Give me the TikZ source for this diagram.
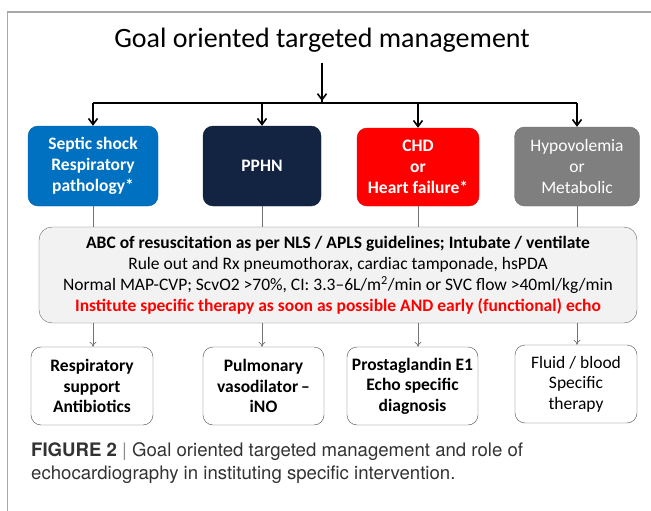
\documentclass[tikz,border=0pt]{standalone}
\usepackage{fontspec}
\setmainfont{Carlito}
\newfontfamily\captionfont{TeX Gyre Heros}
\usetikzlibrary{positioning,arrows.meta}

\definecolor{septicblue}{HTML}{0070C0}
\definecolor{pphnnavy}{HTML}{122441}
\definecolor{chdred}{HTML}{FF0000}
\definecolor{hypogray}{HTML}{7F7F7F}
\definecolor{abcfill}{HTML}{F2F2F2}
\definecolor{framegray}{HTML}{A8A8A8}
\definecolor{captiongray}{HTML}{333333}

\tikzset{
    condbox/.style={draw=#1!85!black, fill=#1, rounded corners=10pt, text=white, align=center,
        minimum height=80pt, inner sep=1pt, font=\fontsize{17.5}{21}\selectfont},
    therapybox/.style={draw=black!70, rounded corners=10pt, align=center, minimum height=78pt,
        inner sep=1pt, font=\fontsize{17.5}{20.5}\selectfont},
    busarrow/.style={line width=1.6pt, -{Straight Barb[length=6pt,width=9pt]}},
    thinline/.style={draw=black!55, line width=0.7pt},
    thinarrow/.style={thinline, -{To[length=5pt,width=7pt]}}
}

\begin{document}
\begin{tikzpicture}[x=1pt, y=-1pt]
        \useasboundingbox (0,0) rectangle (651,511);

        % Draw the outer frame
        \draw[framegray, line width=1.3pt] (7.5,511) -- (7.5,12) -- (651,12);

        % Title and the bus below it
        \node (title) at (322,40) {\fontsize{28}{32}\selectfont Goal oriented targeted management};
        \coordinate (hub) at (322,103);

        % Presenting conditions
        \node[condbox=septicblue, minimum width=130pt] (septic) at (93,166) {\bfseries Septic shock\\\bfseries Respiratory\\\bfseries pathology*};
        \node[condbox=pphnnavy, minimum width=118pt] (pphn) at (262,166) {\bfseries PPHN};
        \node[condbox=chdred, minimum width=122pt, minimum height=78pt] (chd) at (418,167) {\bfseries CHD\\\bfseries or\\\bfseries Heart failure*};
        \node[condbox=hypogray, minimum width=125pt, minimum height=79pt] (hypo) at (577,166.5) {Hypovolemia\\or\\Metabolic};

        % Draw the arrows from the title
        \draw[line width=1.6pt] (title.south |- 0,63) -- (hub);
        \draw[line width=1.6pt] (septic.north |- hub) -- (hypo.north |- hub);
        \draw[busarrow] (title.south |- 0,63) -- ([yshift=2pt]hub);
        \foreach \cond in {septic, pphn, chd, hypo}
            \draw[busarrow] (\cond.north |- hub) -- (\cond.north);

        % Common resuscitation box
        \node[draw=black!60, fill=abcfill, rounded corners=13pt, minimum width=598pt, minimum height=96pt,
            align=center, inner sep=1pt, font=\fontsize{17.5}{21}\selectfont] (abc) at (338,275)
            {\bfseries ABC of resuscitation as per NLS / APLS guidelines; Intubate / ventilate\\
             Rule out and Rx pneumothorax, cardiac tamponade, hsPDA\\
             Normal MAP-CVP; ScvO2 >70\%, CI: 3.3--6L/m\textsuperscript{2}/min or SVC flow >40ml/kg/min\\
             \color{chdred}\bfseries Institute specific therapy as soon as possible AND early (functional) echo};

        % Specific therapies
        \node[therapybox, minimum width=122pt] (resp) at (92,386) {\bfseries Respiratory\\\bfseries support\\\bfseries Antibiotics};
        \node[therapybox, minimum width=121pt] (vaso) at (263.5,386) {\bfseries Pulmonary\\\bfseries vasodilator\,--\\\bfseries iNO};
        \node[therapybox, minimum width=131pt] (pge) at (412.5,386) {\bfseries Prostaglandin E1\\\bfseries Echo specific\\\bfseries diagnosis};
        \node[therapybox, minimum width=122pt] (fluid) at (576,384) {Fluid / blood\\Specific\\therapy};

        % Connect conditions to the common box and on to the therapies
        \foreach \cond in {septic, pphn, chd, hypo}
            \draw[thinline] (\cond.south) -- (\cond.south |- abc.north);
        \foreach \cond/\ther in {septic/resp, pphn/vaso, chd/pge, hypo/fluid}
            \draw[thinarrow] (\cond.south |- abc.south) -- (\cond.south |- \ther.north);

        % Figure caption
        \node[anchor=west, align=left, inner sep=0pt, text=captiongray, font=\captionfont\fontsize{18.6}{22.5}\selectfont] (caption) at (31,463)
            {\textbf{FIGURE 2} {\color{black!45}|} Goal oriented targeted management and role of\\
             echocardiography in instituting specific intervention.};
\end{tikzpicture}
\end{document}
